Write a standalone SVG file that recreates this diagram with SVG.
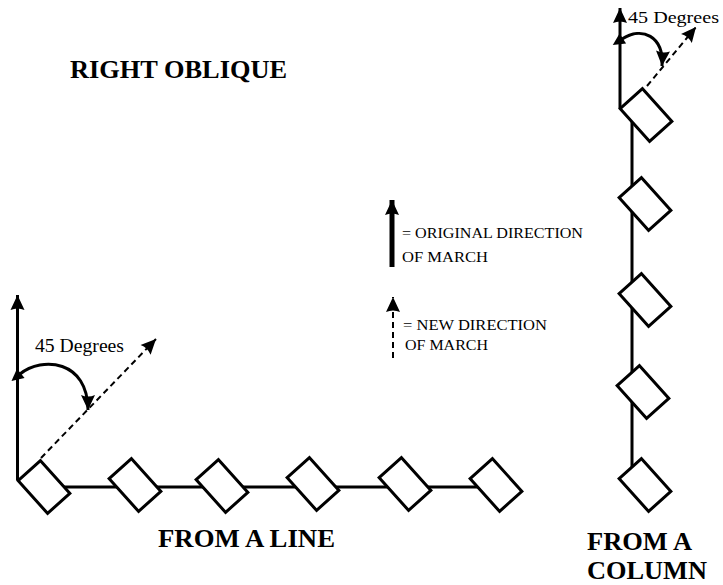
<svg xmlns="http://www.w3.org/2000/svg" width="723" height="585" viewBox="0 0 723 585">
<defs>
<style>
.ln{stroke:#000;stroke-width:3;fill:none}
.dash{stroke:#000;stroke-width:2;fill:none;stroke-dasharray:6 4}
.box{fill:#fff;stroke:#000;stroke-width:3}
.t{font-family:"Liberation Serif","Times New Roman",serif;fill:#000}
.b{font-weight:bold}
</style>
<marker id="ah" markerUnits="userSpaceOnUse" markerWidth="18" markerHeight="18" viewBox="-16 -9 18 18" refX="0" refY="0" orient="auto">
<path d="M0,0 L-15,-7 Q-12,0 -15,7 Z" fill="#000"/>
</marker>
<marker id="as" markerUnits="userSpaceOnUse" markerWidth="16" markerHeight="16" viewBox="-15 -8 16 16" refX="-11" refY="0" orient="auto-start-reverse">
<path d="M0,0 L-12,-6 L-12,6 Z" fill="#000"/>
</marker>
<rect id="r" x="-22" y="-15" width="44" height="30" transform="rotate(48)"/>
</defs>
<rect width="723" height="585" fill="#fff"/>

<g id="connectors">
<line class="ln" x1="44" y1="487" x2="495" y2="487"/>
<line class="ln" x1="17.5" y1="480" x2="17.5" y2="295" marker-end="url(#ah)"/>
<path class="ln" d="M20,374 C42,356 88,360 88,410" marker-start="url(#as)" marker-end="url(#ah)"/>
<line class="dash" x1="41" y1="458" x2="156" y2="339" marker-end="url(#ah)"/>

<line class="ln" x1="632" y1="115" x2="632" y2="485"/>
<line class="ln" x1="620" y1="108" x2="620" y2="8" marker-end="url(#ah)"/>
<path class="ln" d="M622,39 C642,26 664,36 662,66" marker-start="url(#as)" marker-end="url(#ah)"/>
<line class="dash" x1="647" y1="86" x2="696" y2="27" marker-end="url(#ah)"/>

<line x1="392" y1="267" x2="392" y2="200" stroke="#000" stroke-width="5" marker-end="url(#ah)"/>
<line class="dash" x1="393" y1="358" x2="393" y2="297" marker-end="url(#ah)"/>
</g>

<g id="line-formation">
<use href="#r" class="box" transform="translate(44,487)"/>
<use href="#r" class="box" transform="translate(135,485)"/>
<use href="#r" class="box" transform="translate(222,486)"/>
<use href="#r" class="box" transform="translate(313,484)"/>
<use href="#r" class="box" transform="translate(405,484)"/>
<use href="#r" class="box" transform="translate(496,485)"/>
</g>

<g id="column-formation">
<use href="#r" class="box" transform="translate(646,115)"/>
<use href="#r" class="box" transform="translate(645,204)"/>
<use href="#r" class="box" transform="translate(645,300)"/>
<use href="#r" class="box" transform="translate(643,392)"/>
<use href="#r" class="box" transform="translate(645,485)"/>
</g>

<g id="labels">
<text class="t b" x="70" y="78" font-size="26" textLength="217" lengthAdjust="spacingAndGlyphs">RIGHT OBLIQUE</text>
<text class="t" x="35" y="352" font-size="19" textLength="89" lengthAdjust="spacingAndGlyphs">45 Degrees</text>
<text class="t" x="628" y="23" font-size="16" textLength="91" lengthAdjust="spacingAndGlyphs">45 Degrees</text>
<text class="t" x="402" y="238" font-size="15" textLength="181" lengthAdjust="spacingAndGlyphs">= ORIGINAL DIRECTION</text>
<text class="t" x="402" y="262" font-size="15" textLength="86" lengthAdjust="spacingAndGlyphs">OF MARCH</text>
<text class="t" x="403" y="330" font-size="15" textLength="144" lengthAdjust="spacingAndGlyphs">= NEW DIRECTION</text>
<text class="t" x="405" y="350" font-size="15" textLength="83" lengthAdjust="spacingAndGlyphs">OF MARCH</text>
<text class="t b" x="158" y="547" font-size="26" textLength="177" lengthAdjust="spacingAndGlyphs">FROM A LINE</text>
<text class="t b" x="587" y="550" font-size="25" textLength="105" lengthAdjust="spacingAndGlyphs">FROM A</text>
<text class="t b" x="587" y="579" font-size="25" textLength="120" lengthAdjust="spacingAndGlyphs">COLUMN</text>
</g>
</svg>
